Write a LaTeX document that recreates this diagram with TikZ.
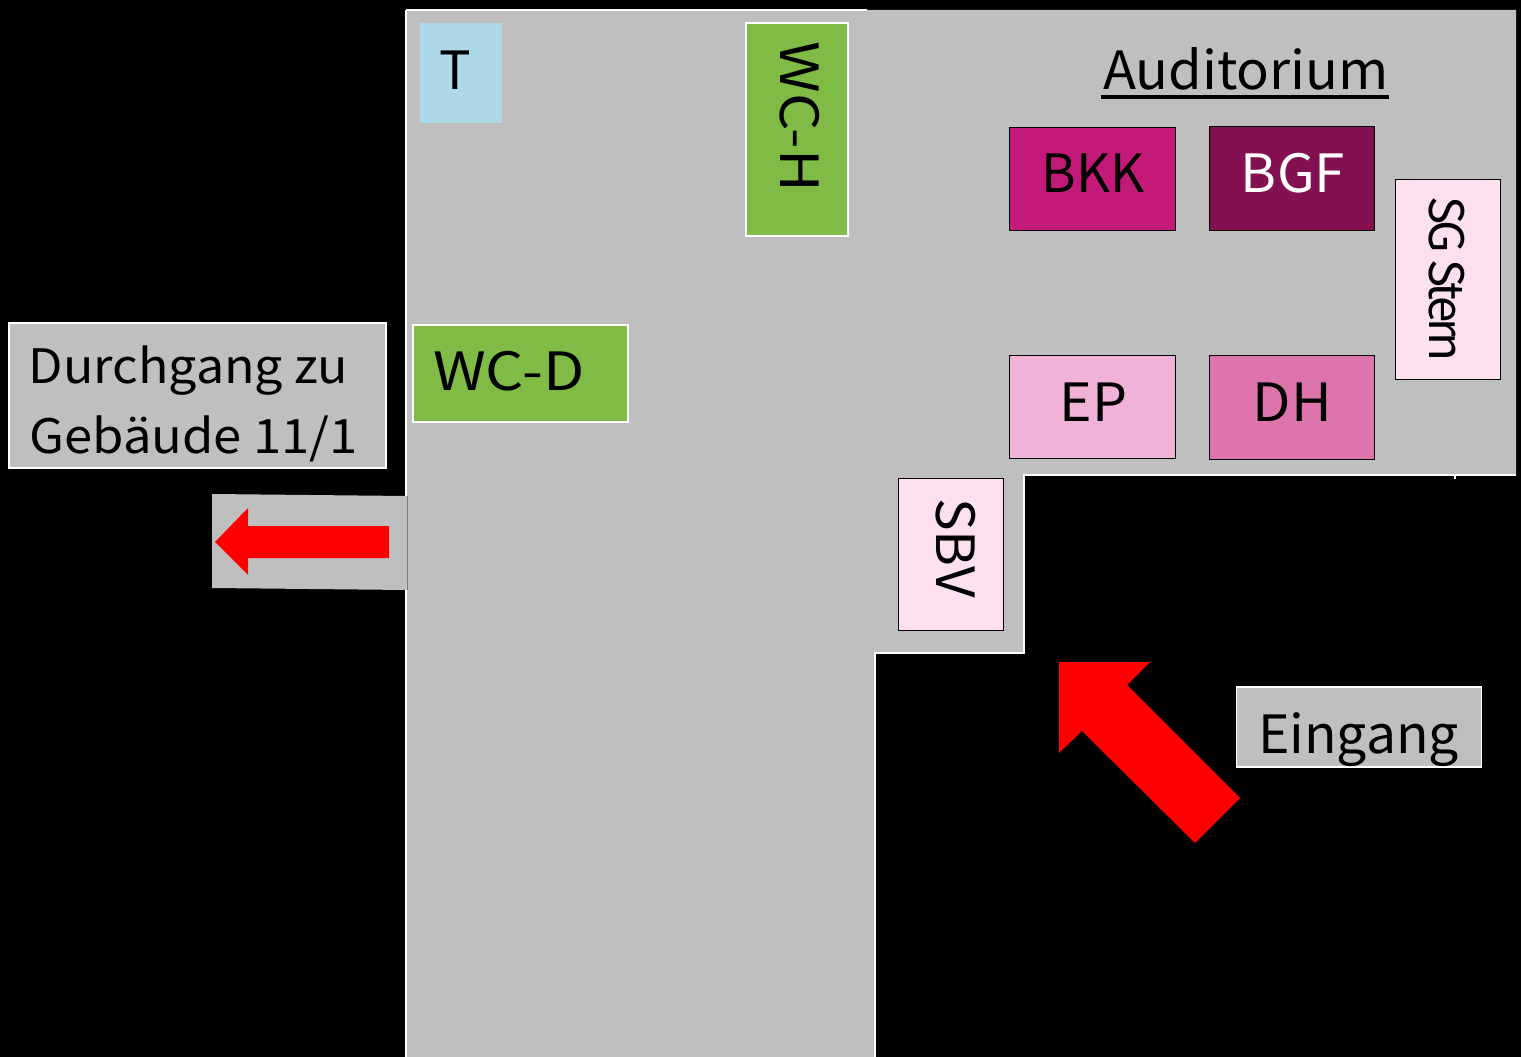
\documentclass[tikz,border=0pt]{standalone}
\usepackage{fontspec}
\setmainfont{Noto Sans CJK JP}
\definecolor{hallgray}{HTML}{BFBFBF}
\definecolor{wcgreen}{HTML}{7FBB45}
\definecolor{kioskblue}{HTML}{ADD8E8}
\definecolor{bkkpink}{HTML}{C31A7A}
\definecolor{bgfpink}{HTML}{831050}
\definecolor{eppink}{HTML}{F1B2D8}
\definecolor{dhpink}{HTML}{DE74AC}
\definecolor{palepink}{HTML}{FCE0F0}
\definecolor{stubline}{HTML}{808080}
\tikzset{
  room/.style = {draw = black, line width = 0.5pt},
  wcroom/.style = {draw = white, line width = 0.6pt, fill = wcgreen},
  signbox/.style = {draw = white, line width = 0.6pt, fill = hallgray},
  lbl/.style = {inner sep = 0pt, anchor = base, font = \fontsize{30}{36}\selectfont},
  smalllbl/.style = {lbl, font = \fontsize{27}{32}\selectfont},
  sidelbl/.style = {rotate = -90},
  spaced/.style = {execute at begin node = \addfontfeature{LetterSpace = #1}},
  stretched/.style = {execute at begin node = \addfontfeature{FakeStretch = #1}},
  wall/.style = {white, line width = 1.2pt}
}
\begin{document}
\begin{tikzpicture}[x = 0.02cm, y = -0.02cm]
  \fill [black] (0, 0) rectangle (1521, 1057);
  \useasboundingbox (0, 0) rectangle (1521, 1057);
  % hall and passage stub
  \fill [hallgray] (407, 10) -- (1516, 10) -- (1516, 475) -- (1024, 475) -- (1024, 653) -- (875, 653) -- (875, 1057) -- (407, 1057) -- cycle;
  \fill [hallgray] (212, 494) -- (407, 496) -- (407, 590) -- (212, 588) -- cycle;
  \draw [wall, line width = 1.7pt] (406, 10) -- (406, 496);
  \draw [wall, line width = 1.7pt] (406, 590) -- (406, 1057);
  \draw [stubline, line width = 0.5pt] (407, 496) -- (407, 590);
  \draw [wall, line width = 0.7pt] (406, 10) -- (867, 10);
  \draw [wall] (1516, 475) -- (1024, 475) -- (1024, 653) -- (875, 653) -- (875, 1057);
  \draw [wall] (1455, 475) -- (1455, 479);
  % rooms
  \draw [draw = none, fill = kioskblue] (420, 23) rectangle (502, 123);
  \draw [wcroom] (746, 23) rectangle (848, 236);
  \draw [wcroom] (413, 325) rectangle (628, 422);
  \draw [room, fill = bkkpink] (1009.7, 127) rectangle (1175, 230);
  \draw [room, fill = bgfpink] (1209.5, 126) rectangle (1374.7, 230);
  \draw [room, fill = eppink] (1009.7, 355) rectangle (1175, 458);
  \draw [room, fill = dhpink] (1209.5, 355.5) rectangle (1374.7, 459);
  \draw [room, fill = palepink] (1395.5, 179) rectangle (1500.5, 379);
  \draw [room, fill = palepink] (898, 478) rectangle (1003.5, 630);
  \draw [signbox] (9, 323) rectangle (386, 468);
  \draw [signbox] (1236.5, 687) rectangle (1481.5, 767);
  % red arrows
  \fill [red] (215, 542) -- (248, 508) -- (248, 526) -- (389, 526) -- (389, 558) -- (248, 558) -- (248, 575) -- cycle;
  \fill [red] (1059, 662) -- (1150, 662) -- (1127, 685) -- (1240, 798) -- (1195, 843) -- (1082, 731) -- (1059, 753) -- cycle;
  % labels
  \node [lbl] (t) at (455, 90) {T};
  \node [lbl, sidelbl, stretched = 1.115] (wch) at (780, 117) {WC-H};
  \node [lbl, anchor = base west, stretched = 1.14] (wcd) at (433, 391) {WC-D};
  \node [lbl, stretched = 1.03] (audi) at (1246, 90) {Auditorium};
  \draw [line width = 2pt] ([xshift = -1pt, yshift = -4pt] audi.base west) -- ([yshift = -4pt] audi.base east);
  \node [lbl] (bkk) at (1093, 193) {BKK};
  \node [lbl, white, stretched = 1.04] (bgf) at (1293, 193) {BGF};
  \node [lbl, stretched = 1.05] (ep) at (1093.5, 421) {EP};
  \node [lbl, stretched = 1.06] (dh) at (1292.5, 421) {DH};
  \node [smalllbl, sidelbl, spaced = -8.5] (sg) at (1429, 279) {SG Stern};
  \node [lbl, sidelbl, stretched = 1.04] (sbv) at (936, 548) {SBV};
  \node [smalllbl, anchor = base west, stretched = 1.057] (durch) at (28.5, 383) {Durchgang zu};
  \node [smalllbl, anchor = base west, stretched = 1.07] (geb) at (29, 453) {Gebäude 11/1};
  \node [lbl, stretched = 1.015] (eing) at (1358.5, 753) {Eingang};
\end{tikzpicture}
\end{document}
